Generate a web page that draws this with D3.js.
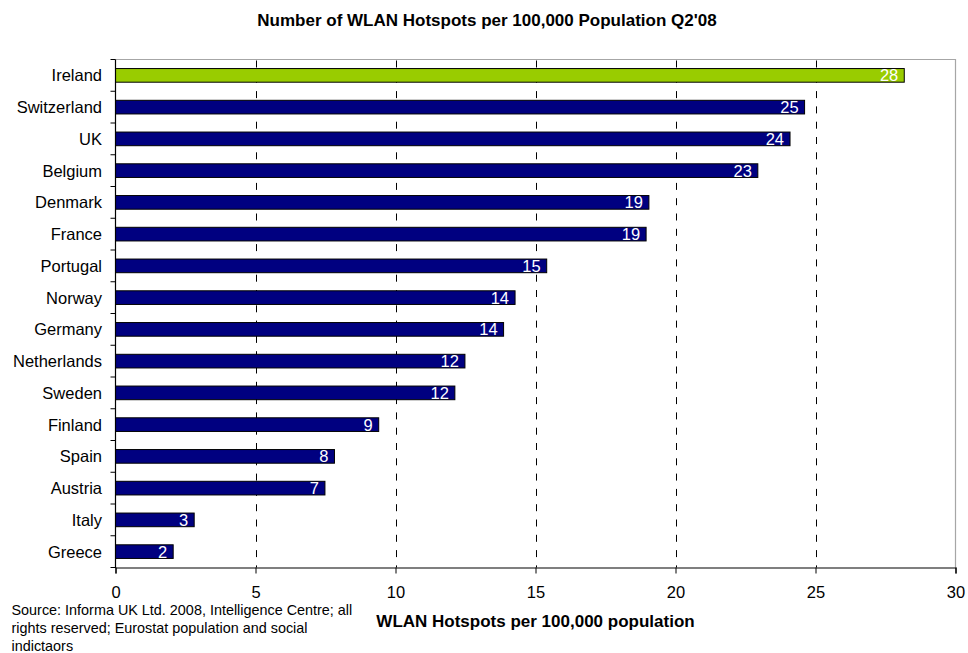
<!DOCTYPE html>
<html>
<head>
<meta charset="utf-8">
<script src="https://cdn.jsdelivr.net/npm/d3@7"></script>
<style>
  html, body { margin: 0; padding: 0; background: #fff; }
  svg { display: block; font-family: Arial, "Liberation Sans", sans-serif; }
</style>
</head>
<body>
<svg id="chart" width="968" height="653"></svg>
<script>
// Hotspots per 100,000 population, Q2 2008
const countries = ["Ireland", "Switzerland", "UK", "Belgium", "Denmark", "France", "Portugal", "Norway",
                   "Germany", "Netherlands", "Sweden", "Finland", "Spain", "Austria", "Italy", "Greece"];
const hotspots = [28.17, 24.61, 24.09, 22.94, 19.05, 18.95, 15.40, 14.27,
                  13.86, 12.48, 12.12, 9.40, 7.82, 7.48, 2.81, 2.06];
const highlighted = ["Ireland"];
const xTicks = [0, 5, 10, 15, 20, 25, 30];

const titleText = "Number of WLAN Hotspots per 100,000 Population Q2'08";
const xAxisTitle = "WLAN Hotspots per 100,000 population";
const sourceLines = ["Source: Informa UK Ltd. 2008, Intelligence Centre; all",
                     "rights reserved; Eurostat population and social",
                     "indictaors"];

const data = countries.map((c, i) => ({ country: c, value: hotspots[i] }));

const svg = d3.select("#chart");
const plot = { left: 115.5, right: 955.5, top: 59.5, bottom: 567.5 };

const x = d3.scaleLinear().domain([0, 30]).range([plot.left, plot.right]);
const y = d3.scaleBand().domain(countries).range([plot.top, plot.bottom])
  .paddingInner(0.57).paddingOuter(0.285);
const step = y.step();

svg.append("rect").attr("width", 968).attr("height", 653).attr("fill", "#fff");

// plot frame (top and right in grey)
svg.append("path")
  .attr("d", `M${plot.left},${plot.top}H${plot.right}V${plot.bottom}`)
  .attr("fill", "none").attr("stroke", "#a6a6a6").attr("stroke-width", 1.2);

// dashed vertical gridlines
svg.append("g").selectAll("line")
  .data(xTicks.filter(t => t > 0 && t < 30))
  .join("line")
  .attr("x1", d => Math.round(x(d)) + 0.5).attr("x2", d => Math.round(x(d)) + 0.5)
  .attr("y1", plot.top + 1).attr("y2", plot.bottom)
  .attr("stroke", "#000").attr("stroke-width", 1)
  .attr("stroke-dasharray", "7,8.3");

// bars
const barColor = d => highlighted.includes(d.country) ? "#99cc00" : "#000080";
svg.append("g").selectAll("rect")
  .data(data)
  .join("rect")
  .attr("x", x(0))
  .attr("y", d => y(d.country))
  .attr("width", d => x(d.value) - x(0))
  .attr("height", y.bandwidth())
  .attr("fill", barColor)
  .attr("stroke", "#000").attr("stroke-width", 1);

// value labels inside bar ends
const fmt = d3.format(".0f");
svg.append("g").selectAll("text")
  .data(data)
  .join("text")
  .attr("x", d => x(d.value) - 6)
  .attr("y", d => y(d.country) + y.bandwidth() / 2)
  .attr("dy", "0.36em")
  .attr("text-anchor", "end")
  .attr("fill", "#fff")
  .attr("font-size", "16.5px")
  .text(d => fmt(d.value));

// x axis
const xAxis = d3.axisBottom(x).tickValues(xTicks).tickSize(6).tickPadding(13).tickFormat(d3.format("d"));
const gx = svg.append("g").attr("transform", `translate(0,${plot.bottom})`).call(xAxis);
gx.select(".domain").attr("stroke", "#000").attr("stroke-width", 1.2);
gx.selectAll(".tick line").attr("stroke", "#000");
gx.selectAll(".tick text").attr("font-size", "16.5px").attr("fill", "#000")
  .attr("font-family", "Arial, 'Liberation Sans', sans-serif");

// y axis: line plus ticks at category boundaries
const gy = svg.append("g");
gy.append("line").attr("x1", plot.left).attr("x2", plot.left)
  .attr("y1", plot.top).attr("y2", plot.bottom + 0.5)
  .attr("stroke", "#000").attr("stroke-width", 1.2);
gy.selectAll(".bound")
  .data(d3.range(countries.length + 1))
  .join("line")
  .attr("class", "bound")
  .attr("x1", plot.left - 5).attr("x2", plot.left)
  .attr("y1", i => plot.top + i * step).attr("y2", i => plot.top + i * step)
  .attr("stroke", "#000").attr("stroke-width", 1);
gy.selectAll(".cat")
  .data(countries)
  .join("text")
  .attr("class", "cat")
  .attr("x", 102)
  .attr("y", d => y(d) + y.bandwidth() / 2)
  .attr("dy", "0.36em")
  .attr("text-anchor", "end")
  .attr("font-size", "16.5px")
  .attr("fill", "#000")
  .text(d => d);

// titles
svg.append("text")
  .attr("x", 487).attr("y", 26)
  .attr("text-anchor", "middle")
  .attr("font-weight", "bold").attr("font-size", "17px")
  .text(titleText);

svg.append("text")
  .attr("x", (plot.left + plot.right) / 2).attr("y", 626.5)
  .attr("text-anchor", "middle")
  .attr("font-weight", "bold").attr("font-size", "17px")
  .text(xAxisTitle);

// source note
svg.append("g").selectAll("text")
  .data(sourceLines)
  .join("text")
  .attr("x", 11.5)
  .attr("y", (d, i) => 615 + i * 18)
  .attr("font-size", "14.4px")
  .attr("fill", "#000")
  .text(d => d);
</script>
</body>
</html>
